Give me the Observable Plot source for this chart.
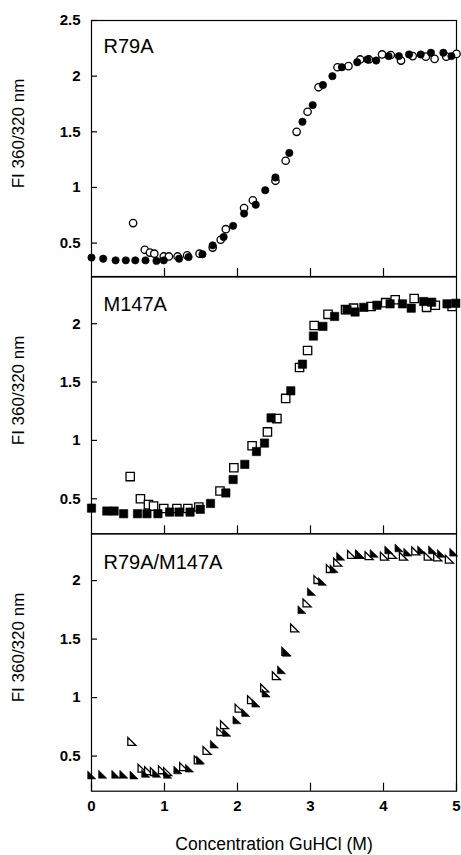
<!DOCTYPE html>
<html>
<head>
<meta charset="utf-8">
<script src="https://cdn.jsdelivr.net/npm/d3@7"></script>
<script src="https://cdn.jsdelivr.net/npm/@observablehq/plot@0.6"></script>
<style>
  body { margin: 0; background: #fff; }
  #chart { position: relative; width: 461px; height: 855px; font-family: "Liberation Sans", Arial, sans-serif; color: #000; }
  #chart svg { position: absolute; left: 0; top: 0; }
</style>
</head>
<body>
<div id="chart"></div>
<script>
// ---- tick labels / text ----
const xTicks = [0, 1, 2, 3, 4, 5];
const innerXTicks = [1, 2, 3, 4];
const yTicksTop = [0.5, 1, 1.5, 2, 2.5];
const yTicks = [0.5, 1, 1.5, 2];
const panelLabels = ["R79A", "M147A", "R79A/M147A"];
const yTitle = "FI 360/320 nm";
const xTitle = "Concentration GuHCl (M)";

// ---- data: [GuHCl (M), FI 360/320] ----
const r79aFilled = [[0,0.37],[0.16,0.36],[0.33,0.345],[0.47,0.345],[0.60,0.345],[0.74,0.345],[0.89,0.34],[0.99,0.345],[1.20,0.36],[1.33,0.375],[1.52,0.40],[1.66,0.48],[1.81,0.555],[1.94,0.655],[2.09,0.765],[2.25,0.845],[2.38,0.975],[2.52,1.09],[2.71,1.31],[2.89,1.59],[3.03,1.74],[3.17,1.92],[3.30,2.0],[3.43,2.08],[3.64,2.125],[3.78,2.15],[3.90,2.14],[4.07,2.18],[4.21,2.18],[4.35,2.195],[4.51,2.195],[4.65,2.21],[4.82,2.21],[4.93,2.18]];
const r79aOpen = [[0.57,0.68],[0.73,0.44],[0.80,0.415],[0.86,0.405],[0.99,0.38],[1.06,0.38],[1.18,0.38],[1.31,0.39],[1.48,0.405],[1.66,0.46],[1.77,0.53],[1.84,0.625],[2.09,0.815],[2.21,0.885],[2.52,1.06],[2.66,1.24],[2.81,1.50],[2.96,1.68],[3.11,1.90],[3.37,2.08],[3.52,2.09],[3.68,2.15],[3.80,2.15],[3.98,2.195],[4.10,2.19],[4.24,2.14],[4.40,2.18],[4.58,2.175],[4.70,2.155],[4.86,2.175],[5.0,2.2]];

const m147aFilled = [[0,0.42],[0.21,0.395],[0.31,0.395],[0.44,0.372],[0.63,0.372],[0.76,0.372],[0.91,0.372],[1.07,0.386],[1.20,0.386],[1.35,0.386],[1.49,0.41],[1.63,0.46],[1.84,0.55],[1.94,0.665],[2.10,0.795],[2.26,0.905],[2.37,0.977],[2.46,1.193],[2.73,1.425],[2.89,1.653],[3.04,1.894],[3.17,1.977],[3.33,2.062],[3.50,2.12],[3.61,2.10],[3.73,2.14],[3.91,2.158],[4.09,2.17],[4.26,2.17],[4.38,2.133],[4.55,2.19],[4.66,2.184],[4.87,2.17],[4.99,2.175]];
const m147aOpen = [[0.53,0.69],[0.67,0.50],[0.78,0.45],[0.85,0.437],[0.99,0.417],[1.17,0.417],[1.32,0.417],[1.47,0.43],[1.76,0.567],[1.95,0.766],[2.20,0.954],[2.41,1.073],[2.54,1.187],[2.66,1.36],[2.85,1.625],[2.96,1.77],[3.05,1.985],[3.24,2.08],[3.48,2.12],[3.59,2.133],[3.83,2.147],[4.03,2.18],[4.16,2.205],[4.42,2.216],[4.59,2.14],[4.71,2.158],[4.94,2.147]];

const doubleFilled = [[0,0.336],[0.15,0.342],[0.33,0.342],[0.44,0.342],[0.58,0.336],[0.74,0.35],[0.89,0.35],[1.04,0.342],[1.18,0.379],[1.34,0.394],[1.49,0.465],[1.68,0.60],[1.85,0.70],[1.99,0.807],[2.11,0.87],[2.25,0.95],[2.39,1.036],[2.60,1.235],[2.67,1.384],[2.88,1.749],[3.01,1.903],[3.16,1.99],[3.32,2.10],[3.41,2.205],[3.68,2.22],[3.87,2.23],[4.07,2.26],[4.21,2.277],[4.33,2.24],[4.52,2.26],[4.67,2.26],[4.79,2.23],[4.96,2.24]];
const doubleOpen = [[0.55,0.622],[0.69,0.394],[0.78,0.373],[0.86,0.365],[0.97,0.38],[1.04,0.365],[1.26,0.407],[1.46,0.465],[1.58,0.545],[1.77,0.707],[1.82,0.765],[2.02,0.907],[2.19,0.979],[2.37,1.079],[2.53,1.184],[2.66,1.392],[2.78,1.592],[2.95,1.806],[3.10,2.006],[3.27,2.10],[3.37,2.155],[3.56,2.22],[3.67,2.22],[3.80,2.21],[4.01,2.205],[4.12,2.22],[4.27,2.205],[4.44,2.25],[4.61,2.205],[4.74,2.2],[4.90,2.18]];

// right-angled triangle marker (apex top-left)
const rightTriangle = {
  draw(context, size) {
    const r = Math.sqrt(size / Math.PI);
    context.moveTo(-r * 0.85, -r * 0.95);
    context.lineTo(r * 0.95, r * 0.8);
    context.lineTo(-r * 0.85, r * 0.8);
    context.closePath();
  }
};

const W = 461, H = 855;
const panels = [
  {top: 20, bottom: 276, domain: [0.2, 2.5], yt: yTicksTop, filled: r79aFilled, open: r79aOpen, symbol: "circle", r: 3.7, label: panelLabels[0], labelDy: 18.5, showX: false},
  {top: 276.5, bottom: 533.3, domain: [0.2, 2.4], yt: yTicks, filled: m147aFilled, open: m147aOpen, symbol: "square", r: 4.7, label: panelLabels[1], labelDy: 20, showX: false},
  {top: 533.3, bottom: 790.7, domain: [0.2, 2.4], yt: yTicks, filled: doubleFilled, open: doubleOpen, symbol: rightTriangle, r: 4.5, label: panelLabels[2], labelDy: 21, showX: true}
];

const fmt = d => String(d);
const chart = document.getElementById("chart");
for (const p of panels) {
  const marks = [
    Plot.frame({stroke: "black", strokeWidth: 1.2}),
    Plot.axisY(p.yt, {anchor: "left", tickSize: -6, tickPadding: 17, fontSize: 15, fontWeight: "bold", tickFormat: fmt, label: null, stroke: "black", strokeWidth: 1.2}),
    p.showX
      ? Plot.axisX(xTicks, {anchor: "bottom", tickSize: -8, tickPadding: 17, fontSize: 15, fontWeight: "bold", tickFormat: fmt, label: null, stroke: "black", strokeWidth: 1.2})
      : Plot.axisX(innerXTicks, {anchor: "bottom", tickSize: -8, tickFormat: () => "", label: null, stroke: "black", strokeWidth: 1.2}),
    Plot.dot(p.open, {x: d => d[0], y: d => d[1], r: p.r, symbol: p.symbol, fill: "white", stroke: "black", strokeWidth: 1.3}),
    Plot.dot(p.filled, {x: d => d[0], y: d => d[1], r: p.r, symbol: p.symbol, fill: "black", stroke: "black", strokeWidth: 0.6}),
    Plot.text([p.label], {text: d => d, frameAnchor: "top-left", dx: 12, dy: p.labelDy, fontSize: 20, textAnchor: "start", lineAnchor: "top", fill: "black"}),
    Plot.text([yTitle], {text: d => d, frameAnchor: "left", rotate: -90, dx: -73, dy: -15, fontSize: 17, textAnchor: "middle", lineAnchor: "middle", fill: "black"})
  ];
  if (p.showX) {
    marks.push(Plot.text([xTitle], {text: d => d, frameAnchor: "bottom", dy: 53, fontSize: 17.5, textAnchor: "middle", lineAnchor: "middle", fill: "black"}));
  }
  const svg = Plot.plot({
    width: W,
    height: H,
    marginLeft: 91,
    marginRight: 5,
    marginTop: p.top,
    marginBottom: H - p.bottom,
    x: {domain: [0, 5]},
    y: {domain: p.domain},
    style: {background: "transparent", overflow: "visible", fontFamily: "Liberation Sans, Arial, sans-serif", color: "black"},
    marks
  });
  chart.appendChild(svg);
}
</script>
</body>
</html>
